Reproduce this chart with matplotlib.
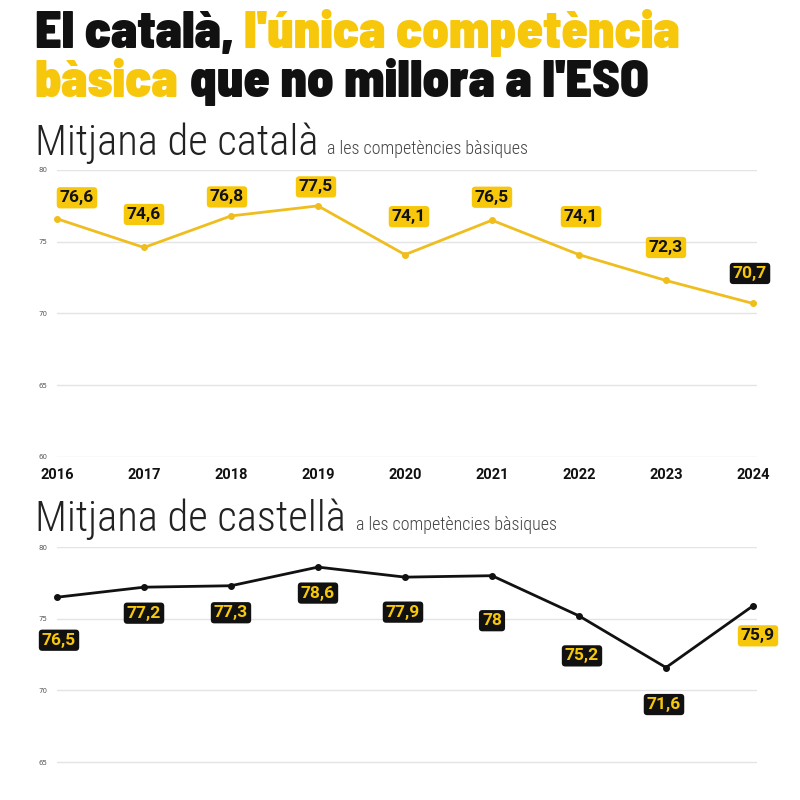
import matplotlib
matplotlib.use("Agg")
import matplotlib.pyplot as plt
from matplotlib.ticker import FixedLocator

# ---------------- data ----------------
years = [2016, 2017, 2018, 2019, 2020, 2021, 2022, 2023, 2024]
catala = [76.6, 74.6, 76.8, 77.5, 74.1, 76.5, 74.1, 72.3, 70.7]
castella = [76.5, 77.2, 77.3, 78.6, 77.9, 78.0, 75.2, 71.6, 75.9]
y_ticks = [60, 65, 70, 75, 80]
grid_years = years[::2]

title_line1 = [("El català, ", "black"), ("l'única competència", "gold")]
title_line2 = [("bàsica", "gold"), (" que no millora a l'ESO", "black")]
sub1_big, sub1_small = "Mitjana de català", "a les competències bàsiques"
sub2_big, sub2_small = "Mitjana de castellà", "a les competències bàsiques"

# ---------------- style ----------------
YEL = "#F7C70C"
LINE_YEL = "#EFBE1E"
BLK = "#111111"
GRID = "#E4E4E4"
colmap = {"gold": YEL, "black": BLK}

# label offsets in pixels (dx, dy); positive dy = up
top_off = [(20, 21), (0, 33), (-4, 19), (-2, 19), (4, 38), (0, 23), (2, 38), (0, 33), (-3, 30)]
bot_off = [(2, -43), (0, -26), (0, -27), (0, -26), (-2, -35), (0, -45), (3, -40), (-2, -37), (5, -30)]

W = H = 800
fig = plt.figure(figsize=(8, 8), dpi=100)
fig.patch.set_facecolor("white")


def px(x, y):
    return x / W, 1 - y / H


def fmt(v):
    return ("%g" % v).replace(".", ",")


renderer = fig.canvas.get_renderer()


def fit_text(s, x, y, target_w, family, weight, color, size0):
    t = fig.text(*px(x, y), s, family=family, weight=weight, color=color,
                 fontsize=size0, va="baseline", ha="left")
    w = t.get_window_extent(renderer).width
    t.set_fontsize(size0 * target_w / w)
    return t


def rich_line(parts, x, y, size, family, weight):
    cx = x
    for s, c in parts:
        t = fig.text(*px(cx, y), s, family=family, weight=weight, color=colmap[c],
                     fontsize=size, va="baseline", ha="left")
        cx += t.get_window_extent(renderer).width
    return cx


# Title: fit size so line 1 spans ~646 px
TFAM = ["Barlow Semi Condensed", "DejaVu Sans"]
TW = 900
probe = fig.text(0, 0, "".join(s for s, _ in title_line1), family=TFAM, weight=TW, fontsize=40)
w1 = probe.get_window_extent(renderer).width
probe.remove()
tsize = 40 * 646 / w1
rich_line(title_line1, 35, 48, tsize, TFAM, TW)
rich_line(title_line2, 35, 97, tsize, TFAM, TW)

SFAM = ["Roboto Condensed", "DejaVu Sans"]
fit_text(sub1_big, 35, 155, 283, SFAM, 300, "#222222", 30)
fit_text(sub1_small, 327, 154, 201, SFAM, 300, "#444444", 11)
fit_text(sub2_big, 35, 531, 310, SFAM, 300, "#222222", 30)
fit_text(sub2_small, 356, 530, 201, SFAM, 300, "#444444", 11)

# axes geometry (pixels)
LEFT, RIGHT = 57, 757
XMAX = 2016 + 8 * (RIGHT - LEFT) / 696.0


def make_ax(top_px, bottom_px, show_x=True):
    l, b = LEFT / W, 1 - bottom_px / H
    ax = fig.add_axes([l, b, (RIGHT - LEFT) / W, (bottom_px - top_px) / H])
    ax.set_xlim(2016, XMAX)
    ax.set_ylim(60, 80)
    for s in ax.spines.values():
        s.set_visible(False)
    ax.set_yticks(y_ticks)
    labels = [str(v) for v in y_ticks] if show_x else [""] + [str(v) for v in y_ticks[1:]]
    ax.set_yticklabels(labels, fontsize=5, color="#555555")
    ax.xaxis.set_major_locator(FixedLocator(years))
    ax.xaxis.set_minor_locator(FixedLocator(grid_years))
    if show_x:
        ax.set_xticklabels([str(y) for y in years], fontsize=10.5, weight="bold",
                           color=BLK, family=["Roboto", "DejaVu Sans"])
    else:
        ax.set_xticklabels([])
    ax.tick_params(axis="y", length=0, pad=7)
    ax.tick_params(axis="x", which="both", length=0, pad=8)
    ax.grid(axis="y", color=GRID, lw=1)
    ax.grid(axis="x", which="minor", color=GRID, lw=1)
    ax.grid(axis="x", which="major", visible=False)
    ax.set_axisbelow(True)
    ax.set_facecolor("white")
    return ax


ax1 = make_ax(170, 457)
ax2 = make_ax(547, 834, show_x=False)

ax1.plot(years, catala, color=LINE_YEL, lw=2, marker="o", ms=4, clip_on=False, zorder=3)
ax2.plot(years, castella, color=BLK, lw=2, marker="o", ms=4, clip_on=False, zorder=3)

LFAM = ["Roboto", "DejaVu Sans"]
for i, (yr, v) in enumerate(zip(years, catala)):
    last = i == len(years) - 1
    fc, tc = (BLK, YEL) if last else (YEL, BLK)
    dx, dy = top_off[i]
    ax1.annotate(fmt(v), (yr, v), xytext=(dx * 0.72, dy * 0.72), textcoords="offset points",
                 ha="center", va="center", fontsize=12.5, weight="bold", color=tc, family=LFAM,
                 bbox=dict(boxstyle="round,pad=0.18,rounding_size=0.2", fc=fc, ec="none"),
                 annotation_clip=False, zorder=5)

for i, (yr, v) in enumerate(zip(years, castella)):
    last = i == len(years) - 1
    fc, tc = (YEL, BLK) if last else (BLK, YEL)
    dx, dy = bot_off[i]
    ax2.annotate(fmt(v), (yr, v), xytext=(dx * 0.72, dy * 0.72), textcoords="offset points",
                 ha="center", va="center", fontsize=12.5, weight="bold", color=tc, family=LFAM,
                 bbox=dict(boxstyle="round,pad=0.18,rounding_size=0.2", fc=fc, ec="none"),
                 annotation_clip=False, zorder=5)

fig.savefig("out.png", dpi=100, facecolor="white")
